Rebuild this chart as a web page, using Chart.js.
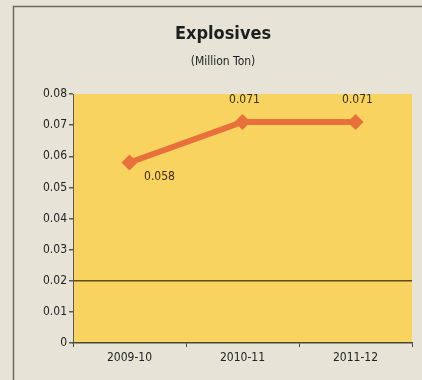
<!DOCTYPE html>
<html>
<head>
<meta charset="utf-8">
<script src="https://cdn.jsdelivr.net/npm/chart.js@4.4.1/dist/chart.umd.min.js"></script>
<style>
  html, body { margin: 0; padding: 0; background: #e7e3d7; }
  #wrap { width: 422px; height: 380px; position: relative; }
</style>
</head>
<body>
<div id="wrap"><canvas id="c" width="422" height="380"></canvas></div>
<script>
// Explosives output by year (million ton)
const years = ['2009-10', '2010-11', '2011-12'];
const explosives = [0.058, 0.071, 0.071];
const yTicks = [0, 0.01, 0.02, 0.03, 0.04, 0.05, 0.06, 0.07, 0.08];
const chartTitle = 'Explosives';
const chartSubtitle = '(Million Ton)';
const referenceLine = 0.02;

const FONT = "'DejaVu Sans Condensed', 'Liberation Sans Narrow', 'Arial Narrow', 'Liberation Sans', Arial, sans-serif";

const framePlugin = {
  id: 'frame',
  beforeDraw(chart) {
    const ctx = chart.ctx;
    ctx.save();
    ctx.fillStyle = '#e7e3d7';
    ctx.fillRect(0, 0, chart.width, chart.height);
    // panel frame
    ctx.strokeStyle = '#6d6a5e';
    ctx.lineWidth = 1.5;
    ctx.beginPath();
    ctx.moveTo(13.5, chart.height);
    ctx.lineTo(13.5, 6.5);
    ctx.lineTo(chart.width, 6.5);
    ctx.stroke();
    // plot area fill
    const a = chart.chartArea;
    ctx.fillStyle = '#f8d35f';
    ctx.fillRect(a.left, a.top, a.right - a.left, a.bottom - a.top);
    // titles
    ctx.fillStyle = '#1e1e1e';
    ctx.textAlign = 'center';
    ctx.textBaseline = 'middle';
    ctx.font = 'bold 18px ' + FONT;
    ctx.fillText(chartTitle, 223, 34);
    ctx.font = '12px ' + FONT;
    ctx.fillText(chartSubtitle, 223, 62);
    ctx.restore();
  }
};

const valueLabels = {
  id: 'valueLabels',
  afterDatasetsDraw(chart) {
    const ctx = chart.ctx;
    const meta = chart.getDatasetMeta(0);
    ctx.save();
    ctx.fillStyle = '#3a2e10';
    ctx.font = '12px ' + FONT;
    ctx.textAlign = 'center';
    ctx.textBaseline = 'middle';
    meta.data.forEach((pt, i) => {
      const v = chart.data.datasets[0].data[i];
      const txt = v.toFixed(3);
      if (i === 0) {
        ctx.fillText(txt, pt.x + 30, pt.y + 14);
      } else {
        ctx.fillText(txt, pt.x + 2, pt.y - 22);
      }
    });
    ctx.restore();
  }
};

new Chart(document.getElementById('c'), {
  type: 'line',
  data: {
    labels: years,
    datasets: [{
      data: explosives,
      borderColor: '#e8703a',
      backgroundColor: '#e8703a',
      borderWidth: 6,
      pointStyle: 'rectRot',
      pointRadius: 8,
      pointHoverRadius: 8,
      pointBorderWidth: 0,
      tension: 0
    }]
  },
  options: {
    responsive: false,
    animation: false,
    events: [],
    layout: { padding: { top: 94, right: 10, left: 0, bottom: 0 } },
    plugins: {
      legend: { display: false },
      tooltip: { enabled: false },
      title: { display: false }
    },
    scales: {
      x: {
        type: 'category',
        offset: true,
        grid: {
          offset: true,
          drawOnChartArea: false,
          color: 'rgba(0,0,0,0)',
          tickColor: '#4a4536',
          tickLength: 4
        },
        border: { color: '#4a4536', width: 1.5 },
        ticks: { color: '#222', font: { family: FONT, size: 12 }, padding: 4 },
        afterFit(scale) { scale.height = 37; }
      },
      y: {
        min: 0,
        max: 0.08,
        afterBuildTicks(scale) { scale.ticks = yTicks.map(v => ({ value: v })); },
        grid: {
          color: ctx => (ctx.tick && Math.abs(ctx.tick.value - referenceLine) < 1e-9) ? '#5e4d1a' : 'rgba(0,0,0,0)',
          lineWidth: 1.5,
          tickColor: '#5a5a50',
          tickLength: 4
        },
        border: { color: '#5a5a50', width: 1 },
        ticks: {
          color: '#222',
          font: { family: FONT, size: 12 },
          padding: 2,
          callback: v => String(v)
        },
        afterFit(scale) { scale.width = 73; }
      }
    }
  },
  plugins: [framePlugin, valueLabels]
});
</script>
</body>
</html>
